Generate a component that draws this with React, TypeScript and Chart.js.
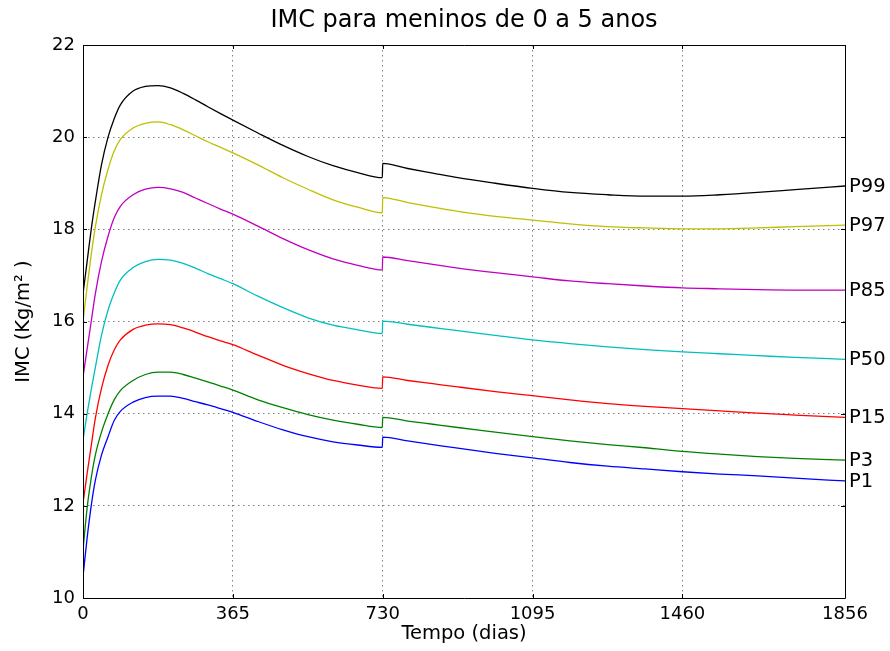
import React, { useEffect, useRef } from "react";
import { Chart, registerables } from "chart.js";

Chart.register(...registerables);

// Tempo (dias)
const days = [0, 10, 20, 30, 45, 61, 76, 91, 122, 152, 183, 213, 244, 274, 304, 335, 365, 426, 487, 548, 609, 669, 729, 730, 791, 852, 913, 1004, 1095, 1186, 1278, 1369, 1460, 1551, 1643, 1734, 1856];

// IMC (Kg/m²) por percentil
const p99 = [16.6, 17.3, 18.0, 18.6, 19.4, 20.0, 20.4, 20.7, 21.0, 21.1, 21.12, 21.07, 20.95, 20.81, 20.66, 20.51, 20.37, 20.09, 19.82, 19.58, 19.38, 19.23, 19.12, 19.43, 19.32, 19.22, 19.12, 19.0, 18.89, 18.8, 18.75, 18.72, 18.72, 18.75, 18.8, 18.86, 18.94];
const p97 = [16.0, 16.75, 17.45, 18.05, 18.75, 19.3, 19.7, 19.95, 20.2, 20.3, 20.33, 20.27, 20.16, 20.03, 19.9, 19.78, 19.66, 19.4, 19.12, 18.87, 18.64, 18.48, 18.36, 18.69, 18.58, 18.48, 18.39, 18.28, 18.2, 18.12, 18.06, 18.03, 18.01, 18.01, 18.03, 18.06, 18.09];
const p85 = [14.8, 15.4, 16.0, 16.6, 17.3, 17.85, 18.25, 18.5, 18.75, 18.87, 18.91, 18.88, 18.8, 18.68, 18.56, 18.44, 18.33, 18.07, 17.8, 17.56, 17.36, 17.22, 17.12, 17.4, 17.32, 17.24, 17.16, 17.06, 16.97, 16.88, 16.82, 16.77, 16.73, 16.71, 16.69, 16.68, 16.68];
const p50 = [13.43, 14.0, 14.52, 15.0, 15.7, 16.25, 16.62, 16.9, 17.17, 17.3, 17.35, 17.33, 17.26, 17.16, 17.04, 16.93, 16.82, 16.55, 16.3, 16.08, 15.92, 15.82, 15.74, 16.01, 15.94, 15.87, 15.8, 15.7, 15.6, 15.52, 15.45, 15.39, 15.34, 15.3, 15.26, 15.22, 15.18];
const p15 = [12.05, 12.7, 13.3, 13.9, 14.55, 15.05, 15.38, 15.6, 15.83, 15.92, 15.95, 15.93, 15.86, 15.77, 15.67, 15.58, 15.5, 15.27, 15.05, 14.87, 14.72, 14.62, 14.55, 14.8, 14.72, 14.65, 14.58, 14.48, 14.39, 14.3, 14.22, 14.16, 14.11, 14.06, 14.01, 13.97, 13.92];
const p3 = [11.04, 11.95, 12.6, 13.1, 13.6, 14.0, 14.3, 14.5, 14.72, 14.85, 14.9, 14.9, 14.85, 14.77, 14.69, 14.6, 14.51, 14.3, 14.13, 13.98, 13.86, 13.77, 13.7, 13.92, 13.84, 13.77, 13.7, 13.6, 13.5, 13.41, 13.33, 13.26, 13.18, 13.12, 13.07, 13.03, 12.99];
const p1 = [10.46, 11.3, 12.0, 12.55, 13.1, 13.5, 13.85, 14.05, 14.25, 14.35, 14.38, 14.38, 14.33, 14.26, 14.19, 14.11, 14.03, 13.83, 13.65, 13.5, 13.39, 13.32, 13.27, 13.49, 13.41, 13.33, 13.25, 13.14, 13.04, 12.94, 12.86, 12.8, 12.74, 12.69, 12.65, 12.6, 12.54];

const seriesLabels = ["P1", "P3", "P15", "P50", "P85", "P97", "P99"];
const seriesValues = [p1, p3, p15, p50, p85, p97, p99];
const seriesColors = ["#0000ff", "#008000", "#ff0000", "#00bfbf", "#bf00bf", "#bfbf00", "#000000"];

const xTickValues = [0, 365, 730, 1095, 1460, 1856];
const yTickValues = [10, 12, 14, 16, 18, 20, 22];

const titleText = "IMC para meninos de 0 a 5 anos";
const xTitle = "Tempo (dias)";
const yTitle = "IMC (Kg/m² )";

const FONT = "'DejaVu Sans', sans-serif";
const TICK_SIZE = 18;
const LABEL_SIZE = 19.5;
const TITLE_SIZE = 24;

const framePlugin = {
  id: "frame",
  afterDraw(chart: any) {
    const { ctx, chartArea } = chart;
    const xs = chart.scales.x;
    const ys = chart.scales.y;
    const { left, right, top, bottom } = chartArea;
    ctx.save();
    ctx.strokeStyle = "#000";
    ctx.lineWidth = 1;
    ctx.beginPath();
    ctx.rect(Math.round(left) + 0.5, Math.round(top) + 0.5, Math.round(right - left), Math.round(bottom - top));
    ctx.stroke();
    ctx.beginPath();
    for (const v of xTickValues) {
      const px = Math.round(xs.getPixelForValue(v)) + 0.5;
      ctx.moveTo(px, bottom);
      ctx.lineTo(px, bottom - 4);
      ctx.moveTo(px, top);
      ctx.lineTo(px, top + 4);
    }
    for (const v of yTickValues) {
      const py = Math.round(ys.getPixelForValue(v)) + 0.5;
      ctx.moveTo(left, py);
      ctx.lineTo(left + 4, py);
      ctx.moveTo(right, py);
      ctx.lineTo(right - 4, py);
    }
    ctx.stroke();
    ctx.fillStyle = "#000";
    // title centred over the plot area
    ctx.font = `${TITLE_SIZE}px ${FONT}`;
    ctx.textAlign = "center";
    ctx.textBaseline = "middle";
    ctx.fillText(titleText, (left + right) / 2, 21);
    // end-of-line labels
    ctx.font = `${LABEL_SIZE}px ${FONT}`;
    ctx.textAlign = "left";
    chart.data.datasets.forEach((ds: any) => {
      const last = ds.data[ds.data.length - 1];
      const py = ys.getPixelForValue(last.y);
      ctx.fillText(ds.label, right + 4, py + 1);
    });
    ctx.restore();
  },
};

export default function App() {
  const canvasRef = useRef<HTMLCanvasElement | null>(null);

  useEffect(() => {
    document.body.style.margin = "0";
    const canvas = canvasRef.current;
    if (!canvas) return;
    const datasets = seriesLabels.map((label, i) => ({
      label,
      data: days.map((d, j) => ({ x: d, y: seriesValues[i][j] })),
      borderColor: seriesColors[i],
      backgroundColor: seriesColors[i],
      borderWidth: 1.3,
      pointRadius: 0,
      fill: false,
      cubicInterpolationMode: "monotone" as const,
    }));
    const chart = new Chart(canvas, {
      type: "line",
      data: { datasets },
      options: {
        animation: false,
        responsive: false,
        maintainAspectRatio: false,
        layout: { padding: { left: 0, right: 45, top: 45, bottom: 0 } },
        plugins: {
          legend: { display: false },
          tooltip: { enabled: false },
          title: { display: false },
        },
        scales: {
          x: {
            type: "linear",
            min: 0,
            max: 1856,
            afterBuildTicks: (s: any) => {
              s.ticks = xTickValues.map((v) => ({ value: v }));
            },
            afterFit: (s: any) => {
              s.height = 53;
            },
            ticks: {
              color: "#000",
              font: { family: FONT, size: TICK_SIZE },
              padding: 6,
              maxRotation: 0,
              autoSkip: false,
              callback: (v: any) => String(v),
            },
            grid: { color: "rgba(0,0,0,0.5)", lineWidth: 1, drawTicks: false },
            border: { display: false, dash: [1.5, 3.5] },
            title: {
              display: true,
              text: xTitle,
              color: "#000",
              font: { family: FONT, size: LABEL_SIZE, lineHeight: 1 },
              padding: { top: 0, bottom: 7 },
            },
          },
          y: {
            type: "linear",
            min: 10,
            max: 22,
            afterBuildTicks: (s: any) => {
              s.ticks = yTickValues.map((v) => ({ value: v }));
            },
            afterFit: (s: any) => {
              s.width = 83;
            },
            ticks: {
              color: "#000",
              font: { family: FONT, size: TICK_SIZE },
              padding: 8,
              callback: (v: any) => String(v),
            },
            grid: { color: "rgba(0,0,0,0.5)", lineWidth: 1, drawTicks: false },
            border: { display: false, dash: [1.5, 3.5] },
            title: {
              display: true,
              text: yTitle,
              color: "#000",
              font: { family: FONT, size: LABEL_SIZE, lineHeight: 1 },
              padding: { top: 14, bottom: 0 },
            },
          },
        },
      },
      plugins: [framePlugin],
    });
    return () => chart.destroy();
  }, []);

  return (
    <div style={{ position: "fixed", left: 0, top: 0, width: 890, height: 651, background: "#fff" }}>
      <canvas ref={canvasRef} width={890} height={651} />
    </div>
  );
}
